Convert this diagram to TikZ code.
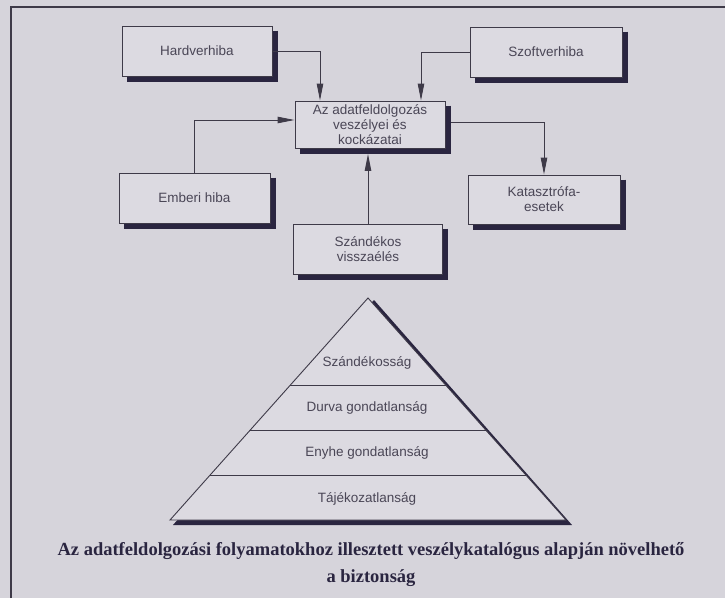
\documentclass[tikz,border=0pt]{standalone}
\usepackage{fontspec}
\setmainfont{Liberation Serif}
\setsansfont{Liberation Sans}
\usetikzlibrary{arrows.meta,calc}
\definecolor{bg}{HTML}{D6D4DB}
\definecolor{boxfill}{HTML}{DCDAE1}
\definecolor{ink}{HTML}{3E3A48}
\definecolor{shadowc}{HTML}{2A2540}
\definecolor{txt}{HTML}{4A4656}
\tikzset{
  x=1pt, y=-1pt,
  box/.style={draw=ink, line width=0.9pt, fill=boxfill, minimum width=150pt, minimum height=50pt,
    inner sep=2pt, align=center, font=\sffamily\fontsize{13.5}{15}\selectfont, text=txt},
  boxshadow/.style={draw=shadowc, line width=5pt, line cap=butt, line join=miter},
  arr/.style={draw=ink, line width=0.9pt, -{Triangle[length=17pt,width=6.5pt]}},
  plabel/.style={font=\sffamily\fontsize{13.5}{15}\selectfont, text=txt}
}
\begin{document}
\begin{tikzpicture}
\fill[bg] (0,0) rectangle (725,598);
\useasboundingbox (0,0) rectangle (725,598);
% frame
\draw[ink, line width=1.2pt] (11,598) -- (11,7) -- (725,7);
% boxes
\node[box] (hw) at (197,51) {Hardverhiba};
\node[box, minimum height=47pt] (c) at (370,124.5) {Az adatfeldolgozás\\veszélyei és\\kockázatai};
\node[box, minimum width=152pt] (sw) at (546,52) {Szoftverhiba};
\node[box, minimum width=151pt] (em) at (194.5,198) {Emberi hiba};
\node[box, minimum width=149pt] (sz) at (368,249) {Szándékos\\visszaélés};
\node[box, minimum width=152pt, minimum height=49pt] (kat) at (544,199.5) {Katasztrófa-\\esetek};
% box shadows, drawn along right and bottom edges
\foreach \n in {hw,c,sw,em,sz,kat}{
  \draw[boxshadow] ($(\n.north east)+(3,5)$) -- ($(\n.south east)+(3,3)$) -- ($(\n.south west)+(5,3)$);
}
% connectors
\draw[arr] (hw.east) -| ([xshift=-50pt]c.north);
\draw[arr] (sw.west) -| ([xshift=51pt]c.north);
\draw[arr] (em.north) |- ([yshift=4.5pt]c.west);
\draw[arr] (sz.north) -- ($(sz.north |- c.south)+(0,5.5)$);
\draw[arr] ([yshift=2.5pt,xshift=5.5pt]c.east) -| (kat.north);
% pyramid
\coordinate (apex) at (368,298);
\coordinate (bl) at (170,520);
\coordinate (br) at (566,520);
\fill[shadowc] ($(apex)+(6,2)$) -- ($(br)+(6,5)$) -- ($(bl)+(3,5)$) -- cycle;
\filldraw[fill=boxfill, draw=ink, line width=0.9pt] (apex) -- (br) -- (bl) -- cycle;
\foreach \yy in {385,430,475}{
  \draw[ink, line width=0.9pt] ({368-0.892*(\yy-298)},\yy) -- ({368+0.892*(\yy-298)},\yy);
}
\node[plabel] (p1) at (367,363) {Szándékosság};
\node[plabel] (p2) at (367,408) {Durva gondatlanság};
\node[plabel] (p3) at (367,453) {Enyhe gondatlanság};
\node[plabel] (p4) at (367,499) {Tájékozatlanság};
% caption
\node[font=\bfseries\fontsize{18.5}{27}\selectfont, text=shadowc, align=center] (cap) at (371,565)
  {Az adatfeldolgozási folyamatokhoz illesztett veszélykatalógus alapján növelhető\\a biztonság};
\end{tikzpicture}
\end{document}
